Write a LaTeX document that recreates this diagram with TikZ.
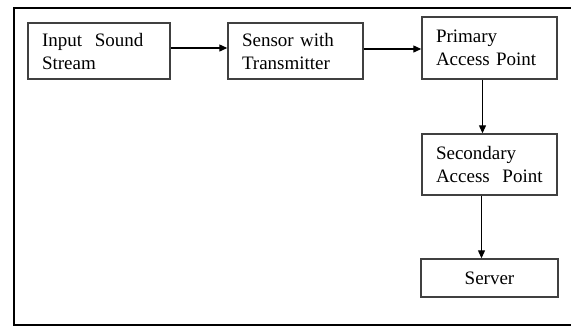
\documentclass[tikz,border=0pt]{standalone}
\usepackage{fontspec}
\setmainfont{Liberation Serif}
\usetikzlibrary{arrows.meta}

\begin{document}
\begin{tikzpicture}[x=1pt, y=-1pt, >={Triangle[length=8pt,width=7pt]}, line width=1.2pt,
    block/.style={draw=black!75, line width=1.4pt, inner xsep=14pt, inner ysep=0pt,
        align=left, font=\fontsize{19}{23}\selectfont}]
        \useasboundingbox (0,0) rectangle (571,327);
        \draw[line width=2.2pt] (571,8) -| (14,325) -- (571,325);

        \node[block,text width=114pt,minimum height=56pt] (input) at (99,51) {Input\ \ Sound\\Stream};
        \node[block,text width=107pt,minimum height=56pt] (sensor) at (295.5,51) {Sensor with\\Transmitter};
        \node[block,text width=107pt,minimum height=62pt,inner xsep=14pt] (primary) at (489.5,48) {Primary\\Access Point};
        \node[block,text width=107pt,minimum height=61pt] (secondary) at (489.5,164.5) {Secondary\\Access\ \ Point};
        \node[block,text width=109pt,minimum height=38pt,align=center] (server) at (489.5,278) {Server};

        \draw[->] ([yshift=3pt]input.east) -- ([yshift=3pt]input.east -| sensor.west);
        \draw[->] ([yshift=2pt]sensor.east) -- ([yshift=2pt]sensor.east -| primary.west);
        \draw[->] ([xshift=-7pt]primary.south) -- ([xshift=-7pt]secondary.north);
        \draw[->] ([xshift=-8pt]secondary.south) -- ([xshift=-8pt]server.north);
    \end{tikzpicture}
\end{document}
